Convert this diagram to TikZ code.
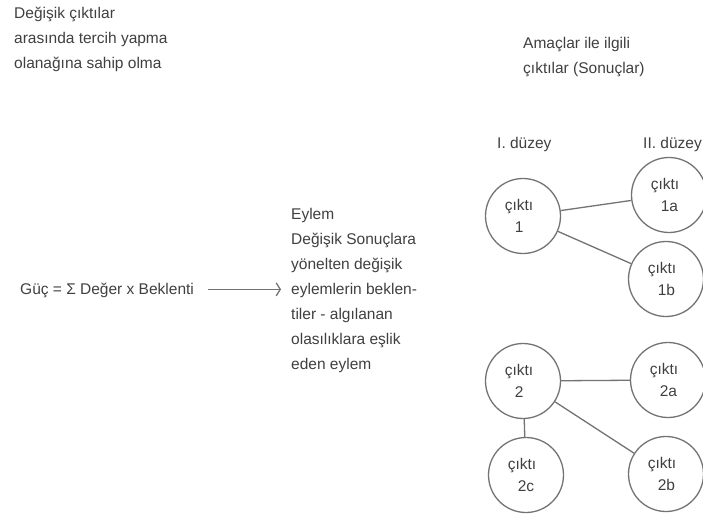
\documentclass[tikz,border=0pt]{standalone}
\usepackage{fontspec}
\setmainfont{Liberation Sans}
\usetikzlibrary{arrows.meta}
\begin{document}
\begin{tikzpicture}[x=1pt,y=-1pt,
  txt/.style={inner sep=0pt, align=left, text=black!75, font=\fontsize{15.5}{25}\selectfont},
  outc/.style={circle, draw=black!55, line width=1.3pt, minimum size=75pt, inner sep=0pt,
    align=left, text=black!75, font=\fontsize{15.5}{22}\selectfont},
  link/.style={draw=black!55, line width=1.3pt},
  arr/.style={draw=black!55, line width=1.3pt, -{Straight Barb[length=4pt,width=13pt]}}]
\useasboundingbox[fill=white] (0,0) rectangle (703,516);

\node[txt, anchor=north west] (choice) at (14,7) {Değişik çıktılar\\arasında tercih yapma\\olanağına sahip olma};
\node[txt, anchor=north west] (goals) at (523,37) {Amaçlar ile ilgili\\çıktılar (Sonuçlar)};
\node[txt, anchor=base west] (lvl1) at (497,148) {I. düzey};
\node[txt, anchor=base west] (lvl2) at (643,148) {II. düzey};
\node[txt, anchor=base west] (guc) at (20,294) {Güç = Σ Değer x Beklenti};
\node[txt, anchor=north west] (eylem) at (291,208) {Eylem\\Değişik Sonuçlara\\yönelten değişik\\eylemlerin beklen-\\tiler - algılanan\\olasılıklara eşlik\\eden eylem};

\node[outc] (c1)  at (523,216) {çıktı\hspace*{8pt}\\\hspace*{10pt}1};
\node[outc] (c1a) at (669,195) {çıktı\hspace*{8pt}\\\hspace*{10pt}1a};
\node[outc] (c1b) at (666,279) {çıktı\hspace*{8pt}\\\hspace*{10pt}1b};
\node[outc] (c2)  at (523,381) {çıktı\hspace*{8pt}\\\hspace*{10pt}2};
\node[outc] (c2a) at (668,380) {çıktı\hspace*{8pt}\\\hspace*{10pt}2a};
\node[outc] (c2b) at (666,474) {çıktı\hspace*{8pt}\\\hspace*{10pt}2b};
\node[outc] (c2c) at (526,475) {çıktı\hspace*{8pt}\\\hspace*{10pt}2c};

\draw[link] (c1) -- (c1a);
\draw[link] (c1) -- (c1b);
\draw[link] (c2) -- (c2a);
\draw[link] (c2) -- (c2b);
\draw[link] (c2) -- (c2c);

\coordinate (arrstart) at ([xshift=14pt,yshift=2pt]guc.mid east);
\draw[arr] (arrstart) -- ([xshift=-10pt]eylem.west |- arrstart);
\end{tikzpicture}
\end{document}
